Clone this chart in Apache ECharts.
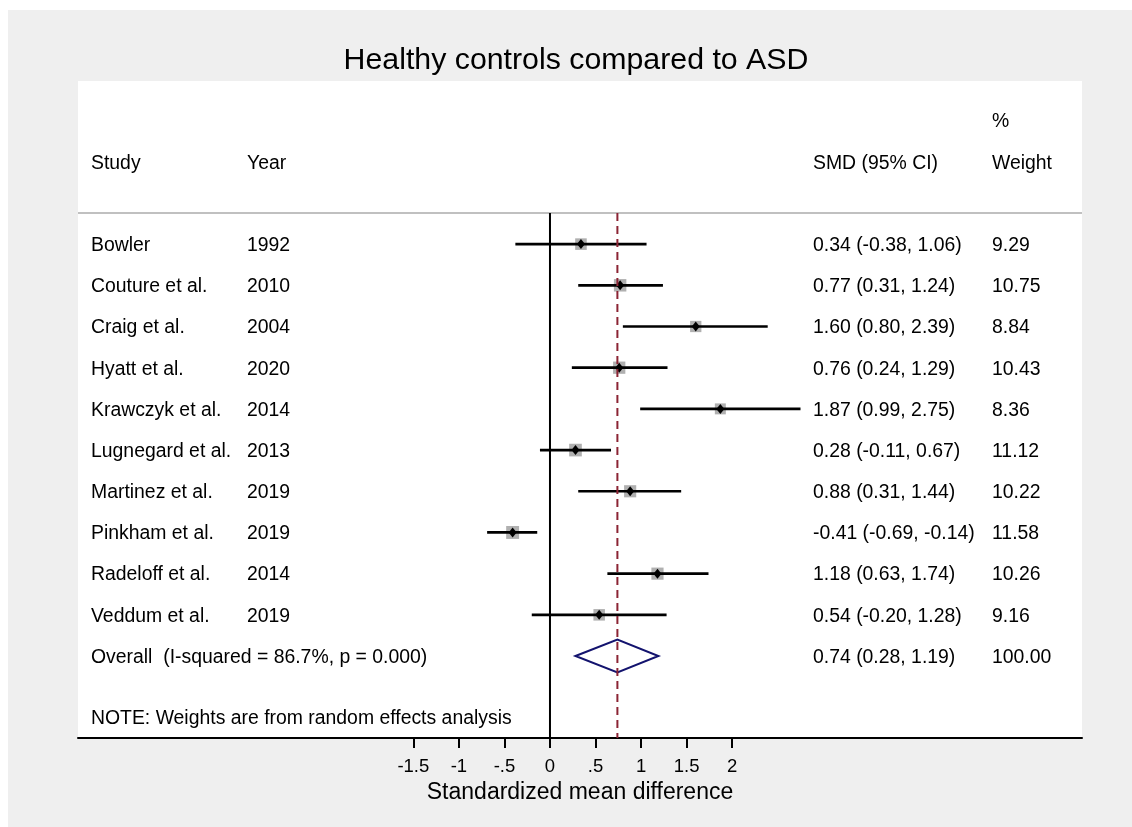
<!DOCTYPE html>
<html>
<head>
<meta charset="utf-8">
<script src="https://cdn.jsdelivr.net/npm/echarts@6.0.0/dist/echarts.min.js"></script>
<style>
  html, body { margin: 0; padding: 0; background: #ffffff; }
  #chart { position: absolute; left: 8px; top: 10px; width: 1124px; height: 817px; }
</style>
</head>
<body>
<div id="chart"></div>
<script>
// study rows
const studies = ['Bowler', 'Couture et al.', 'Craig et al.', 'Hyatt et al.', 'Krawczyk et al.',
  'Lugnegard et al.', 'Martinez et al.', 'Pinkham et al.', 'Radeloff et al.', 'Veddum et al.'];
const years = [1992, 2010, 2004, 2020, 2014, 2013, 2019, 2019, 2014, 2019];
const smd = [0.34, 0.77, 1.60, 0.76, 1.87, 0.28, 0.88, -0.41, 1.18, 0.54];
const ciLow = [-0.38, 0.31, 0.80, 0.24, 0.99, -0.11, 0.31, -0.69, 0.63, -0.20];
const ciHigh = [1.06, 1.24, 2.39, 1.29, 2.75, 0.67, 1.44, -0.14, 1.74, 1.28];
const weights = [9.29, 10.75, 8.84, 10.43, 8.36, 11.12, 10.22, 11.58, 10.26, 9.16];

// pooled estimate
const overallLabel = 'Overall  (I-squared = 86.7%, p = 0.000)';
const overall = [0.74, 0.28, 1.19];
const overallWeight = 100.00;
const noteText = 'NOTE: Weights are from random effects analysis';

// x axis ticks
const tickValues = [-1.5, -1, -0.5, 0, 0.5, 1, 1.5, 2];
const tickLabels = ['-1.5', '-1', '-.5', '0', '.5', '1', '1.5', '2'];

const FONT = "'Liberation Sans', Arial, sans-serif";
const TXT = 19.4;
const TXT_DY = 1.5;
// column x positions (px, inside the chart box)
const COL = { study: 83, year: 239, smd: 805, weight: 984 };
const X_MIN = -5.181, X_MAX = 5.84;
const Y_MIN = -3.96, Y_MAX = 11.99;
const SEP_Y = -0.756;
const overallRow = studies.length;

function fmt(v) { return v.toFixed(2); }

const rowData = studies.map((s, i) => [smd[i], i, ciLow[i], ciHigh[i], weights[i]]);

// header and footer texts: [column, row, text]
const headerTexts = [
  ['weight', -3, '%'],
  ['study', -2, 'Study'],
  ['year', -2, 'Year'],
  ['smd', -2, 'SMD (95% CI)'],
  ['weight', -2, 'Weight'],
  ['study', overallRow, overallLabel],
  ['smd', overallRow, fmt(overall[0]) + ' (' + fmt(overall[1]) + ', ' + fmt(overall[2]) + ')'],
  ['weight', overallRow, overallWeight.toFixed(2)],
  ['study', overallRow + 1.48, noteText]
];

function textEl(x, y, str) {
  return {
    type: 'text',
    style: { text: str, x: x, y: y + TXT_DY, fill: '#000', font: TXT + 'px ' + FONT, align: 'left', verticalAlign: 'middle' }
  };
}

const chart = echarts.init(document.getElementById('chart'), null, { renderer: 'canvas' });

chart.setOption({
  backgroundColor: '#efefef',
  animation: false,
  title: {
    text: 'Healthy controls compared to ASD',
    left: 563,
    textAlign: 'center',
    top: 31,
    textStyle: { fontFamily: FONT, fontSize: 30.3, fontWeight: 'normal', color: '#000' }
  },
  grid: {
    left: 70, right: 50, top: 71, bottom: 89,
    show: true, backgroundColor: '#ffffff', borderWidth: 0
  },
  xAxis: {
    type: 'value',
    min: X_MIN, max: X_MAX,
    name: 'Standardized mean difference',
    nameLocation: 'middle',
    nameGap: 34,
    nameTextStyle: { fontFamily: FONT, fontSize: 23, color: '#000' },
    axisLine: { show: true, onZero: false, lineStyle: { color: '#000', width: 2 } },
    axisTick: { show: true, length: 10, lineStyle: { color: '#000', width: 2 }, customValues: tickValues },
    axisLabel: {
      fontFamily: FONT, fontSize: 18.5, color: '#000', margin: 19,
      customValues: tickValues,
      formatter: v => tickLabels[tickValues.indexOf(v)]
    },
    splitLine: { show: false }
  },
  yAxis: {
    type: 'value', min: Y_MIN, max: Y_MAX, inverse: true, show: false, splitLine: { show: false }
  },
  series: [
    {
      // header separator
      type: 'line', data: [[X_MIN, SEP_Y], [X_MAX, SEP_Y]], symbol: 'none', silent: true,
      lineStyle: { color: '#c0c0c0', width: 2 }
    },
    {
      // line of no effect
      type: 'line', data: [[0, SEP_Y], [0, Y_MAX]], symbol: 'none', silent: true,
      lineStyle: { color: '#000', width: 2 }
    },
    {
      // overall effect
      type: 'line', data: [[overall[0], SEP_Y], [overall[0], Y_MAX]], symbol: 'none', silent: true,
      lineStyle: { color: '#8b2434', width: 2, type: [8, 5] }
    },
    {
      // studies
      type: 'custom',
      data: rowData,
      renderItem: function (params, api) {
        const i = api.value(1);
        const p = api.coord([api.value(0), i]);
        const lo = api.coord([api.value(2), i]);
        const hi = api.coord([api.value(3), i]);
        const side = 3.8 * Math.sqrt(api.value(4));
        return {
          type: 'group',
          children: [
            { type: 'rect', shape: { x: p[0] - side / 2, y: p[1] - side / 2, width: side, height: side },
              style: { fill: '#b0b0b0' } },
            { type: 'line', shape: { x1: lo[0], y1: lo[1], x2: hi[0], y2: hi[1] },
              style: { stroke: '#000', lineWidth: 2.7 } },
            { type: 'polygon', shape: { points: [[p[0] - 4, p[1]], [p[0], p[1] - 5], [p[0] + 4, p[1]], [p[0], p[1] + 5]] },
              style: { fill: '#000' } },
            textEl(COL.study, p[1], studies[i]),
            textEl(COL.year, p[1], String(years[i])),
            textEl(COL.smd, p[1], fmt(smd[i]) + ' (' + fmt(ciLow[i]) + ', ' + fmt(ciHigh[i]) + ')'),
            textEl(COL.weight, p[1], weights[i].toFixed(2))
          ]
        };
      }
    },
    {
      // pooled diamond
      type: 'custom',
      data: [[overall[0], overallRow, overall[1], overall[2]]],
      renderItem: function (params, api) {
        const r = api.value(1);
        const c = api.coord([api.value(0), r]);
        const lo = api.coord([api.value(2), r]);
        const hi = api.coord([api.value(3), r]);
        const h = 16.5;
        return {
          type: 'polygon',
          shape: { points: [[lo[0], c[1]], [c[0], c[1] - h], [hi[0], c[1]], [c[0], c[1] + h]] },
          style: { fill: '#fff', stroke: '#13136e', lineWidth: 2 }
        };
      }
    },
    {
      // header, overall and note texts
      type: 'custom',
      data: headerTexts.map((t, k) => [0, t[1], k]),
      renderItem: function (params, api) {
        const t = headerTexts[api.value(2)];
        const y = api.coord([0, api.value(1)])[1];
        return textEl(COL[t[0]], y, t[2]);
      }
    }
  ]
});
</script>
</body>
</html>
